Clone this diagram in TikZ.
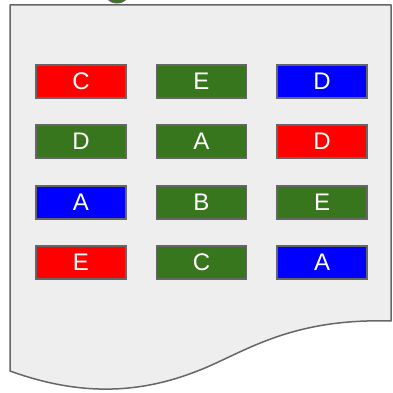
\documentclass[tikz,border=0pt]{standalone}
\usepackage{fontspec}
\setmainfont{Liberation Sans}
\definecolor{docfill}{HTML}{EEEEEE}
\definecolor{docline}{HTML}{666666}
\definecolor{cred}{HTML}{FF0000}
\definecolor{cgreen}{HTML}{38761D}
\definecolor{cblue}{HTML}{0000FF}
\begin{document}
\begin{tikzpicture}[x=1pt,y=-1pt,
  tile/.style={draw=docline,line width=1.2pt,minimum width=90pt,minimum height=33pt,inner sep=0pt,text=white,font=\fontsize{24}{24}\selectfont},
  rtile/.style={tile,fill=cred},
  gtile/.style={tile,fill=cgreen},
  btile/.style={tile,fill=cblue}]
\useasboundingbox (0,0) rectangle (392,393);
\begin{scope}
\clip (0,0) rectangle (392,393);
\fill[cgreen,draw=docline,line width=1pt] (117,-11) ellipse (14pt and 14pt);
\end{scope}
\draw[docline,fill=docfill,line width=1.5pt,line join=round]
  (10,5) -- (391,5) -- (391,321)
  .. controls (290,318) and (245,352) .. (200,370)
  .. controls (150,390) and (90,400) .. (10,371) -- cycle;
\node[rtile] (c11) at (81,81.5) {C};
\node[gtile] (c12) at (201.5,81.5) {E};
\node[btile] (c13) at (322,81.5) {D};
\node[gtile] (c21) at (81,141.5) {D};
\node[gtile] (c22) at (201.5,141.5) {A};
\node[rtile] (c23) at (322,141.5) {D};
\node[btile] (c31) at (81,202.5) {A};
\node[gtile] (c32) at (201.5,202.5) {B};
\node[gtile] (c33) at (322,202.5) {E};
\node[rtile] (c41) at (81,262.5) {E};
\node[gtile] (c42) at (201.5,262.5) {C};
\node[btile] (c43) at (322,262.5) {A};
\end{tikzpicture}
\end{document}
